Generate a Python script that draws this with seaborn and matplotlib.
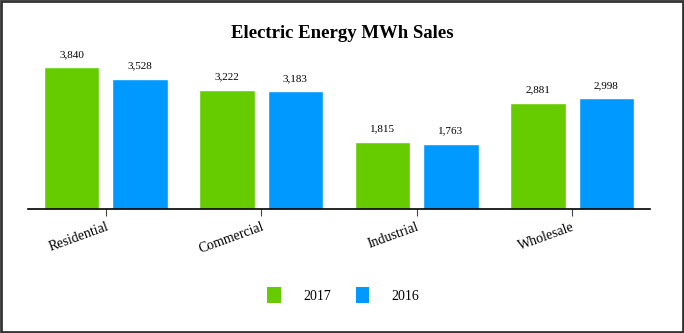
import matplotlib
matplotlib.use("Agg")
import matplotlib.pyplot as plt
import seaborn as sns
import pandas as pd
from matplotlib.patches import Rectangle, Patch

categories = ["Residential", "Commercial", "Industrial", "Wholesale"]
sales_2017 = [3840, 3222, 1815, 2881]
sales_2016 = [3528, 3183, 1763, 2998]
series_names = ["2017", "2016"]
colors = ["#66CC00", "#0099FF"]

df = pd.DataFrame({
    "category": categories * 2,
    "year": [series_names[0]] * 4 + [series_names[1]] * 4,
    "value": sales_2017 + sales_2016,
})

sns.set_theme(style="white")
plt.rcParams["font.family"] = ["Liberation Serif", "DejaVu Serif"]
plt.rcParams["text.color"] = "black"
plt.rcParams["xtick.color"] = "black"

fig = plt.figure(figsize=(6.84, 3.33), dpi=100)
ax = fig.add_axes([0.041, 0.372, 0.909, 0.444])

sns.barplot(data=df, x="category", y="value", hue="year", palette=colors,
            width=0.88, gap=0.19, ax=ax, legend=False, saturation=1)

for cont in ax.containers:
    ax.bar_label(cont, labels=[f"{v:,.0f}" for v in cont.datavalues],
                 padding=6, fontsize=8, color="black")

ax.set_xlim(-0.5, 3.5)
ax.set_ylim(0, 4000)
ax.set_yticks([])
ax.set_xlabel("")
ax.set_ylabel("")
for s in ["left", "right", "top"]:
    ax.spines[s].set_visible(False)
ax.spines["bottom"].set_color("black")
ax.spines["bottom"].set_linewidth(1.2)
ax.tick_params(axis="x", bottom=True, length=5, width=0.8, color="#444444",
               labelsize=10, pad=3, labelcolor="black")
for lbl in ax.get_xticklabels():
    lbl.set_rotation(20)
    lbl.set_ha("right")
    lbl.set_rotation_mode("anchor")
    lbl.set_va("top")

fig.text(0.5, 0.9, "Electric Energy MWh Sales", ha="center", va="center",
         fontsize=13.5, fontweight="bold", color="black")

handles = [Patch(facecolor=c, edgecolor="none") for c in colors]
fig.legend(handles, series_names, loc="center", bbox_to_anchor=(0.502, 0.113),
           ncol=2, frameon=False, fontsize=10, handlelength=1.0,
           handleheight=1.4, handletextpad=1.6, columnspacing=1.75,
           labelcolor="black")

fig.add_artist(Rectangle((0.002, 0.003), 0.996, 0.994, transform=fig.transFigure,
                         fill=False, edgecolor="#333333", linewidth=2))

fig.savefig("out.png", dpi=100)
